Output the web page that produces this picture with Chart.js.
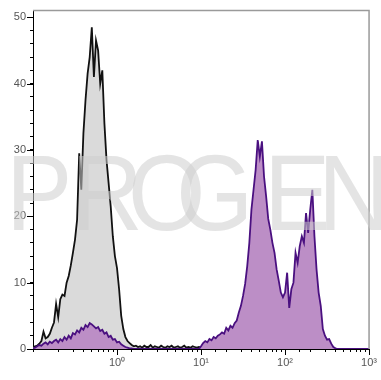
<!DOCTYPE html>
<html>
<head>
<meta charset="utf-8">
<script src="https://cdn.jsdelivr.net/npm/chart.js"></script>
<style>
html, body { margin: 0; padding: 0; background: #fff; }
</style>
</head>
<body>
<canvas id="chart" width="381" height="380"></canvas>
<script>
// histogram bins, log10 units
const binStart = -1;
const binStep = 0.025;

// control (grey) histogram counts
const controlCounts = [
  0.3, 0.4, 0.5, 0.8, 1.2, 2.6, 1.6, 1.8, 2.3, 3.2,
  4.0, 6.8, 4.8, 7.5, 8.2, 8.0, 10.0, 11.0, 12.6, 14.5,
  16.5, 19.5, 29.5, 24.0, 32.5, 37.5, 41.5, 44.0, 48.5, 41.0,
  46.5, 45.0, 40.0, 42.0, 34.0, 28.5, 25.0, 21.5, 17.0, 14.0,
  12.2, 9.0, 5.0, 3.0, 1.8, 1.2, 0.9, 0.6, 0.4, 0.5,
  0.3, 0.4, 0.2, 0.5, 0.3, 0.3, 0.6, 0.2, 0.4, 0.3,
  0.2, 0.5, 0.3, 0.2, 0.4, 0.3, 0.5, 0.2, 0.3, 0.4,
  0.2, 0.3, 0.5, 0.2, 0.3, 0.2, 0.4, 0.3, 0.2, 0.3,
  0.2, 0.1, 0.1, 0, 0, 0, 0, 0, 0, 0,
  0, 0, 0, 0, 0, 0, 0, 0, 0, 0,
  0, 0, 0, 0, 0, 0, 0, 0, 0, 0,
  0, 0, 0, 0, 0, 0, 0, 0, 0, 0,
  0, 0, 0, 0, 0, 0, 0, 0, 0, 0,
  0, 0, 0, 0, 0, 0, 0, 0, 0, 0,
  0, 0, 0, 0, 0, 0, 0, 0, 0, 0,
  0, 0, 0, 0, 0, 0, 0, 0, 0, 0,
  0
];

// stained sample (purple) histogram counts
const sampleCounts = [
  0.1, 0.2, 0.4, 0.6, 0.5, 0.8, 1.0, 0.7, 1.1, 0.9,
  1.2, 1.4, 1.0, 1.5, 1.2, 1.8, 1.4, 2.0, 1.6, 2.4,
  2.2, 2.8, 2.5, 3.2, 2.9, 3.6, 3.3, 3.9, 3.7, 3.4,
  3.1, 3.3, 2.7, 2.9, 2.3, 2.5, 1.8, 2.0, 1.4, 1.5,
  1.0, 1.1, 0.7, 0.5, 0.3, 0.2, 0.1, 0.1, 0, 0,
  0, 0, 0, 0, 0, 0, 0, 0, 0, 0,
  0, 0, 0, 0, 0, 0, 0, 0, 0, 0,
  0, 0, 0, 0, 0, 0, 0, 0, 0, 0,
  0.4, 0.9, 1.2, 1.0, 1.5, 1.3, 1.8, 1.6, 2.0, 2.2,
  2.5, 2.3, 3.2, 2.8, 3.5, 3.2, 3.9, 4.3, 5.5, 6.5,
  8.0, 9.8, 12.5, 16.0, 21.0, 24.0, 27.0, 31.5, 29.0, 31.3,
  26.0, 23.0, 19.6, 18.0, 16.0, 14.5, 12.0, 10.3, 8.5, 7.8,
  8.5, 11.5, 6.2, 9.0, 10.0, 14.5, 13.0, 15.5, 17.0, 16.0,
  20.5, 17.5, 21.0, 24.0, 17.0, 12.0, 8.5, 6.5, 3.0, 2.0,
  1.4, 1.5, 0.8, 0.3, 0.1, 0, 0, 0, 0, 0,
  0, 0, 0, 0, 0, 0, 0, 0, 0, 0,
  0
];

const xDecades = [1, 10, 100, 1000];
const xDecadeLabels = ['10⁰', '10¹', '10²', '10³'];
const yLabelTicks = [0, 10, 20, 30, 40, 50];
const watermarkLetters = ['P', 'R', 'O', 'G', 'E', 'N'];
const watermarkX = [6, 71, 128, 176, 264, 318];

function toPoints(counts) {
  return counts.map((c, i) => ({ x: Math.pow(10, binStart + i * binStep), y: c }));
}

function decadeIndex(v) {
  let e = Math.log10(v);
  let r = Math.round(e);
  if (Math.abs(e - r) > 1e-6) return -1;
  return xDecades.indexOf(Math.pow(10, r));
}

// frame, longer major ticks and watermark
const extras = {
  id: 'extras',
  afterDraw(chart) {
    const ctx = chart.ctx;
    const a = chart.chartArea;
    const xs = chart.scales.x, ys = chart.scales.y;
    ctx.save();
    ctx.strokeStyle = '#9a9a9a';
    ctx.lineWidth = 1.5;
    ctx.beginPath();
    ctx.moveTo(a.left, a.top);
    ctx.lineTo(a.right, a.top);
    ctx.lineTo(a.right, a.bottom);
    ctx.stroke();

    ctx.strokeStyle = '#000';
    ctx.lineWidth = 1;
    ctx.beginPath();
    yLabelTicks.forEach(v => {
      let y = Math.round(ys.getPixelForValue(v)) + 0.5;
      ctx.moveTo(a.left - 6, y);
      ctx.lineTo(a.left, y);
    });
    xDecades.forEach(v => {
      let x = Math.round(xs.getPixelForValue(v)) + 0.5;
      ctx.moveTo(x, a.bottom);
      ctx.lineTo(x, a.bottom + 6);
    });
    ctx.stroke();

    ctx.fillStyle = 'rgba(205,205,205,0.55)';
    ctx.font = '107px "Liberation Sans", Arial, sans-serif';
    ctx.textBaseline = 'alphabetic';
    watermarkLetters.forEach((ch, i) => {
      ctx.save();
      ctx.translate(watermarkX[i], 230);
      ctx.scale(0.93, 1);
      ctx.fillText(ch, 0, 0);
      ctx.restore();
    });
    ctx.restore();
  }
};

new Chart(document.getElementById('chart'), {
  type: 'line',
  data: {
    datasets: [{
      label: 'Control',
      data: toPoints(controlCounts),
      borderColor: '#111',
      backgroundColor: '#dadada',
      borderWidth: 1.8,
      fill: 'origin',
      pointRadius: 0,
      tension: 0,
      order: 2
    }, {
      label: 'Sample',
      data: toPoints(sampleCounts),
      borderColor: '#4a1080',
      backgroundColor: 'rgb(188,142,198)',
      borderWidth: 1.8,
      fill: 'origin',
      pointRadius: 0,
      tension: 0,
      order: 1
    }]
  },
  options: {
    responsive: false,
    animation: false,
    layout: { padding: { top: 6, right: 8, left: 0, bottom: 0 } },
    plugins: { legend: { display: false }, tooltip: { enabled: false } },
    scales: {
      x: {
        type: 'logarithmic',
        min: 0.1,
        max: 1000,
        afterFit: s => { s.height = 31; },
        grid: { drawOnChartArea: false, drawTicks: true, tickLength: 3, color: '#000' },
        border: { display: true, color: '#000', width: 1 },
        ticks: {
          autoSkip: false,
          maxRotation: 0,
          padding: 4,
          color: '#555',
          font: { family: '"Liberation Sans", Arial, sans-serif', size: 11 },
          callback: v => {
            let k = decadeIndex(v);
            return k >= 0 ? xDecadeLabels[k] : '';
          }
        }
      },
      y: {
        min: 0,
        max: 51,
        afterFit: s => { s.width = 33; },
        grid: { drawOnChartArea: false, drawTicks: true, tickLength: 3, color: '#000' },
        border: { display: true, color: '#000', width: 1 },
        ticks: {
          stepSize: 2,
          includeBounds: false,
          autoSkip: false,
          padding: 4,
          color: '#555',
          font: { family: '"Liberation Sans", Arial, sans-serif', size: 11 },
          callback: v => (yLabelTicks.includes(v) ? String(v) : '')
        }
      }
    }
  },
  plugins: [extras]
});
</script>
</body>
</html>
